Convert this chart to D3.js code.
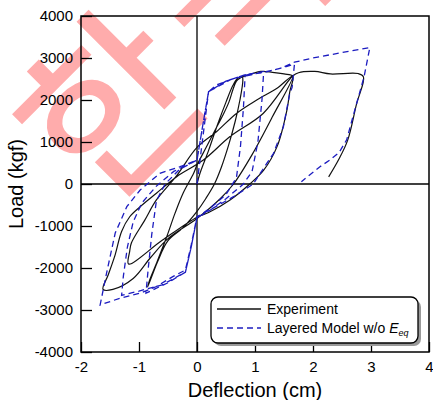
<!DOCTYPE html>
<html>
<head>
<meta charset="utf-8">
<script src="https://cdn.jsdelivr.net/npm/d3@7"></script>
<style>
  body { margin: 0; background: #fff; }
  svg { display: block; font-family: "Liberation Sans", Arial, sans-serif; }
</style>
</head>
<body>
<div id="chart"></div>
<script>
// tick values
var xTicks = [-2, -1, 0, 1, 2, 3, 4];
var yTicks = [-4000, -3000, -2000, -1000, 0, 1000, 2000, 3000, 4000];

// experiment (solid black), deflection in cm, load in kgf
var expDeflection = [0, 0.05, 0.2, 0.35, 0.5, 0.62, 0.7, 0.78,
  0.79, 0.74, 0.66, 0.55, 0.42, 0.3, 0.15, 0, -0.25, -0.5, -0.68, -0.85,
  -0.82, -0.7, -0.52, -0.38, -0.24, -0.06, 0, 0.15, 0.3, 0.45, 0.55, 0.62, 0.68, 0.74,
  0.9, 1.1, 1.3, 1.5, 1.65,
  1.6, 1.55, 1.38, 1.15, 0.91, 0.57, 0.2, 0, -0.6, -1.18,
  -1.16, -1.13, -0.9, -0.7, -0.35, 0, 0.34, 0.68, 1.03, 1.38, 1.65,
  1.3, 0.95, 0.63, 0.4, 0, -0.5, -0.8, -1.1, -1.45, -1.62,
  -1.53, -1.41, -1.3, -1.16, -0.98, -0.7, -0.35, 0.11, 0.57, 1.14, 1.65,
  1.75, 2.03, 2.3, 2.78, 2.87, 2.75, 2.6, 2.45, 2.27];
var expLoad = [0, 250, 800, 1400, 1950, 2350, 2520, 2560,
  2450, 2000, 1500, 950, 400, 0, -350, -650, -1050, -1350, -1850, -2450,
  -2300, -1890, -1250, -700, -220, 250, 450, 850, 1250, 1650, 1950, 2250, 2450, 2520,
  2600, 2680, 2660, 2620, 2570,
  2200, 1760, 890, 330, 0, -380, -680, -790, -1340, -1906,
  -1600, -1400, -860, -380, 200, 870, 1250, 1680, 2000, 2280, 2570,
  1600, 700, 0, -350, -820, -1300, -1750, -2250, -2510, -2510,
  -2160, -1680, -1130, -780, -540, -220, 175, 570, 1130, 1680, 2570,
  2650, 2680, 2620, 2630, 2550, 1900, 1050, 600, 170];

// layered model w/o Eeq (dashed blue)
var modelDeflection = [0, 0.1, 0.2, 0.5, 0.83,
  0.8, 0.75, 0.68, 0.5, 0.25, 0, -0.1, -0.2, -0.5, -0.88,
  -0.84, -0.78, -0.7, -0.55, -0.3, 0, 0.1, 0.2, 0.5, 0.83,
  1.15, 1.12, 1.05, 0.95, 0.8, 0.5, 0.2, 0, -0.1, -0.2, -0.6, -1.0, -1.3,
  -1.27, -1.2, -1.1, -0.95, -0.7, -0.4, 0, 0.1, 0.2, 0.6, 1.0, 1.4, 1.68,
  1.64, 1.6, 1.49, 1.32, 1.09, 0.97, 0.63, 0.22, 0, -0.1, -0.2, -0.41, -0.7, -0.98, -1.33, -1.67,
  -1.56, -1.41, -1.21, -0.98, -0.64, -0.29, 0, 0.1, 0.2, 0.34, 0.57, 0.86, 1.14, 1.43, 1.68,
  2.0, 2.5, 2.98, 2.88, 2.72, 2.58, 2.45, 2.29, 2.12, 1.8];
var modelLoad = [0, 1100, 2200, 2450, 2600,
  1800, 900, 150, -250, -550, -800, -1500, -2100, -2350, -2600,
  -2000, -1200, -400, 0, 350, 570, 1400, 2200, 2450, 2600,
  2680, 2000, 1000, 300, 0, -350, -650, -800, -1500, -2100, -2400, -2550, -2650,
  -2200, -1500, -900, -450, -50, 300, 570, 1400, 2200, 2500, 2620, 2740, 2850,
  2300, 2160, 1365, 730, 254, 0, -302, -619, -778, -1450, -2050, -2200, -2440, -2600, -2720, -2880,
  -2127, -1167, -540, -143, 254, 413, 571, 1400, 2200, 2360, 2480, 2600, 2650, 2750, 2900,
  3000, 3130, 3250, 2550, 1760, 1050, 750, 570, 410, 55];

// watermark glyphs
var watermark = ["한", "국"];

var W = 433, H = 400;
var margin = {top: 16, right: 4, bottom: 48, left: 81};
var width = W - margin.left - margin.right,
    height = H - margin.top - margin.bottom;

var root = d3.select("#chart").append("svg")
    .attr("width", W)
    .attr("height", H);

// watermark behind everything, one glyph per step along a -45deg line
var wm = root.append("g").attr("transform", "translate(101,98) rotate(-45)");
wm.selectAll("text")
    .data(watermark)
    .enter().append("text")
    .attr("x", function(d, i) { return i * 184; })
    .attr("y", 0)
    .attr("text-anchor", "middle")
    .attr("dominant-baseline", "central")
    .style("font-family", "'Noto Sans CJK KR'")
    .style("font-size", "180px")
    .attr("fill", "#ffacac")
    .attr("stroke", "#ffacac")
    .attr("stroke-width", 2)
    .text(function(d) { return d; });

var svg = root.append("g")
    .attr("transform", "translate(" + margin.left + "," + margin.top + ")");

var x = d3.scaleLinear().domain([-2, 4]).range([0, width]);
var y = d3.scaleLinear().domain([-4000, 4000]).range([height, 0]);

var fmt = function(d) { return String(d); };

var xAxis = svg.append("g")
    .attr("transform", "translate(0," + height + ")")
    .call(d3.axisBottom(x).tickValues(xTicks).tickFormat(fmt)
        .tickSizeInner(-10).tickSizeOuter(0).tickPadding(9));
var yAxis = svg.append("g")
    .call(d3.axisLeft(y).tickValues(yTicks).tickFormat(fmt)
        .tickSizeInner(-11).tickSizeOuter(0).tickPadding(8));

[xAxis, yAxis].forEach(function(a) {
  a.select(".domain").remove();
  a.selectAll("line").attr("stroke", "#000").attr("stroke-width", 1.3);
  a.selectAll("text").attr("fill", "#000").style("font-size", "15px")
      .style("font-family", "'Liberation Sans', Arial, sans-serif");
});

// zero lines
svg.append("line")
    .attr("x1", x(0)).attr("x2", x(0)).attr("y1", 0).attr("y2", height)
    .attr("stroke", "#000").attr("stroke-width", 1.3);
svg.append("line")
    .attr("x1", 0).attr("x2", width).attr("y1", y(0)).attr("y2", y(0))
    .attr("stroke", "#000").attr("stroke-width", 1.3);

var expData = expDeflection.map(function(d, i) { return [d, expLoad[i]]; });
var modelData = modelDeflection.map(function(d, i) { return [d, modelLoad[i]]; });

var expLine = d3.line()
    .x(function(d) { return x(d[0]); })
    .y(function(d) { return y(d[1]); })
    .curve(d3.curveCatmullRom.alpha(0.5));
var modelLine = d3.line()
    .x(function(d) { return x(d[0]); })
    .y(function(d) { return y(d[1]); })
    .curve(d3.curveLinear);

svg.append("path")
    .datum(expData)
    .attr("d", expLine)
    .attr("fill", "none")
    .attr("stroke", "#111")
    .attr("stroke-width", 1.2);

svg.append("path")
    .datum(modelData)
    .attr("d", modelLine)
    .attr("fill", "none")
    .attr("stroke", "#1c1cc0")
    .attr("stroke-width", 1.3)
    .attr("stroke-dasharray", "6,4");

// frame
svg.append("rect")
    .attr("width", width).attr("height", height)
    .attr("fill", "none").attr("stroke", "#000").attr("stroke-width", 1.5);

// axis titles
svg.append("text")
    .attr("x", width / 2)
    .attr("y", height + 45)
    .attr("text-anchor", "middle")
    .style("font-size", "20px")
    .text("Deflection (cm)");
svg.append("text")
    .attr("transform", "rotate(-90)")
    .attr("x", -height / 2)
    .attr("y", -58)
    .attr("text-anchor", "middle")
    .style("font-size", "20px")
    .text("Load (kgf)");

// legend
var lg = root.append("g").attr("transform", "translate(211,297)");
lg.append("rect")
    .attr("x", 3).attr("y", 3).attr("width", 207).attr("height", 46).attr("rx", 7)
    .attr("fill", "#9a9a9a");
lg.append("rect")
    .attr("width", 207).attr("height", 46).attr("rx", 7)
    .attr("fill", "#fff").attr("stroke", "#000").attr("stroke-width", 1.3);
lg.append("line")
    .attr("x1", 6).attr("x2", 50).attr("y1", 12).attr("y2", 12)
    .attr("stroke", "#111").attr("stroke-width", 1.3);
lg.append("line")
    .attr("x1", 6).attr("x2", 50).attr("y1", 31).attr("y2", 31)
    .attr("stroke", "#1c1cc0").attr("stroke-width", 1.3).attr("stroke-dasharray", "6,4");
lg.append("text")
    .attr("x", 56).attr("y", 17)
    .style("font-size", "14px")
    .text("Experiment");
var t2 = lg.append("text")
    .attr("x", 56).attr("y", 36)
    .style("font-size", "14px");
t2.append("tspan").text("Layered Model w/o ");
t2.append("tspan").style("font-style", "italic").text("E");
t2.append("tspan").style("font-style", "italic").style("font-size", "9px")
    .attr("dy", 3).text("eq");
</script>
</body>
</html>
